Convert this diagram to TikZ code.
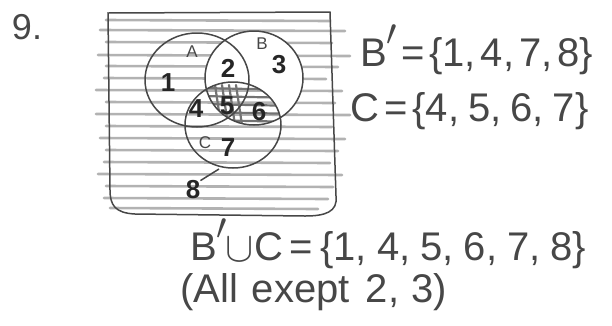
\documentclass[tikz,border=0pt]{standalone}
\usepackage{fontspec}
\usepackage{graphicx}
\setmainfont{Liberation Sans}
\definecolor{pencil}{gray}{0.28}
\definecolor{hatch}{gray}{0.70}
\definecolor{hatchdark}{gray}{0.45}
\begin{document}
\begin{tikzpicture}[x=1pt,y=-1pt,
  pen/.style={draw=pencil,line width=1.5pt},
  hl/.style={draw=hatch,line width=2.6pt,line cap=round},
  hd/.style={draw=hatchdark,line width=2.2pt,line cap=round},
  setlbl/.style={text=pencil,font=\fontsize{17}{19}\selectfont,inner sep=0pt},
  num/.style={text=black!85,font=\bfseries\fontsize{26}{28}\selectfont,inner sep=0pt},
  eq/.style={text=pencil,font=\fontsize{40}{44}\selectfont,anchor=west,inner sep=0pt}]
\useasboundingbox (0,0) rectangle (612,325);
% geometry
\def\Apath{(197,80) ellipse [x radius=52,y radius=47]}
\def\Bpath{(254,78) ellipse [x radius=49,y radius=47]}
\def\Cpath{(233,125) ellipse [x radius=48,y radius=43]}
% hatching over the universe
\begin{scope}
  \clip (94,8) rectangle (360,222);
  \foreach \y/\xs/\xe in {20/106/330,30/100/345,42/106/332,55/98/350,66/106/338,78/104/326,90/96/342,102/106/335,114/96/350,126/106/332,138/100/345,150/106/338,162/104/330,174/98/342,186/106/333,198/104/328,208/110/318}{
    \draw[hl] (\xs,\y) -- (\xe,\y+1);
  }
\end{scope}
% white out B minus C
\begin{scope}
  \clip \Bpath;
  \fill[white,even odd rule] (0,0) rectangle (612,325) \Cpath;
\end{scope}
% darker hatching in B and C
\begin{scope}
  \clip \Bpath; \clip \Cpath;
  \foreach \y in {88,96,104,112,120}{
    \draw[hd] (200,\y) -- (300,\y+2);
  }
  \foreach \x in {215,222,229,236}{
    \draw[hd] (\x,85) -- (\x+6,125);
  }
\end{scope}
% universe frame
\draw[pen] (108,13) -- (330,12) -- (336,196) .. controls (338,212) and (325,216) .. (305,216)
  -- (135,214) .. controls (115,213) and (110,205) .. (110,190) -- cycle;
% circles
\draw[pen] \Apath;
\draw[pen] \Bpath;
\draw[pen] \Cpath;
% set labels
\node[setlbl] (lA) at (192,52) {A};
\node[setlbl] (lB) at (262,44) {B};
\node[setlbl] (lC) at (205,143) {C};
% region numbers
\node[num] (n1) at (168,83) {1};
\node[num] (n2) at (228,68) {2};
\node[num] (n3) at (279,65) {3};
\node[num] (n4) at (196,109) {4};
\node[num] (n5) at (227,106) {5};
\node[num] (n6) at (259,112) {6};
\node[num] (n7) at (228,148) {7};
\node[num] (n8) at (193,190) {8};
\coordinate (tail8) at (219,169);
\draw[pen] (n8.north east) -- (tail8);
% problem number
\node[text=pencil,font=\fontsize{36}{40}\selectfont,inner sep=0pt] (q9) at (27,27) {9.};
% equations
\node[eq] (eqB) at (360,50) {B\raisebox{8pt}{\scalebox{1.5}{$'$}}\kern4pt=\kern4pt\{1,\kern5pt4,\kern5pt7,\kern5pt8\}};
\node[eq] (eqC) at (350,111) {C\kern5pt=\kern5pt\{4,\kern9pt5,\kern9pt6,\kern9pt7\}};
\node[eq] (eqU) at (190,244) {B\raisebox{8pt}{\scalebox{1.5}{$'$}}\kern-2pt\raisebox{-1pt}{\scalebox{1.7}{$\cup$}}C\kern7pt=\kern7pt\{1,\kern10pt4,\kern10pt5,\kern10pt6,\kern10pt7,\kern10pt8\}};
\node[eq] (eqN) at (180,292) {(All\kern14pt exept\kern16pt 2,\kern12pt 3)};
\end{tikzpicture}
\end{document}
